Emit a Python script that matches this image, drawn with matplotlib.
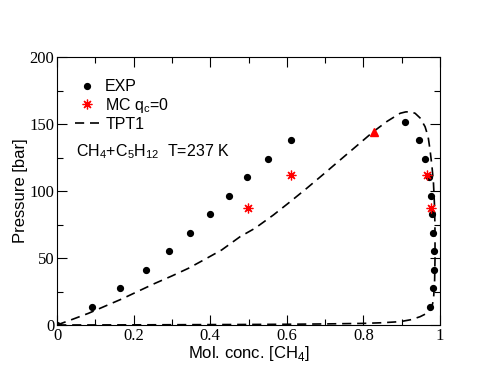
import matplotlib
matplotlib.use("Agg")
import matplotlib.pyplot as plt
from matplotlib.ticker import MultipleLocator

# Experimental data
exp_x = [0.0, 0.091, 0.165, 0.232, 0.292, 0.348, 0.400, 0.448, 0.497, 0.551, 0.612,
         0.909, 0.944, 0.962, 0.972, 0.977, 0.980, 0.983, 0.984, 0.984, 0.983, 0.975]
exp_y = [0.0, 13.7, 27.4, 41.0, 55.0, 68.7, 82.6, 96.3, 110.2, 124.1, 137.8,
         151.5, 137.8, 124.1, 110.4, 96.5, 82.8, 68.9, 55.0, 41.3, 27.4, 13.7]

# MC q_c = 0
mc_x = [0.498, 0.612, 0.966, 0.977]
mc_y = [87.6, 111.7, 111.7, 87.6]

# extra red triangle point
tri_x = [0.828]
tri_y = [143.8]

# TPT1 curve (bubble branch then dew branch back to origin)
tpt_x = [0.0, 0.041, 0.082, 0.125, 0.169, 0.212, 0.256, 0.30, 0.343, 0.386, 0.43,
         0.478, 0.517, 0.565, 0.608, 0.652, 0.696, 0.739, 0.783, 0.826, 0.862,
         0.896, 0.910, 0.922, 0.935, 0.948, 0.961, 0.969, 0.974, 0.979, 0.983,
         0.986, 0.987, 0.987, 0.986, 0.983, 0.979, 0.974, 0.962, 0.948, 0.925,
         0.896, 0.85, 0.80, 0.70, 0.60, 0.50, 0.40, 0.30, 0.20, 0.10, 0.0]
tpt_y = [0.0, 4.3, 8.7, 14.0, 19.4, 25.2, 31.1, 36.6, 42.3, 49.0, 56.0,
         65.9, 72.2, 82.1, 91.8, 102.0, 112.6, 123.1, 133.8, 144.3, 152.0,
         158.0, 159.0, 159.2, 158.0, 154.5, 148.0, 140.5, 130.6, 118.5, 105.7,
         87.0, 68.4, 50.0, 33.6, 18.7, 14.0, 11.2, 8.2, 6.2, 4.0,
         2.5, 1.7, 1.2, 0.8, 0.55, 0.4, 0.3, 0.2, 0.12, 0.05, 0.0]

plt.rcParams['font.family'] = ['Liberation Sans', 'DejaVu Sans']
plt.rcParams['mathtext.fontset'] = 'custom'
plt.rcParams['mathtext.rm'] = 'Liberation Sans'

fig = plt.figure(figsize=(4.95, 3.83), dpi=100)
ax = fig.add_axes([57/495, 58/383, 383/495, 268/383])

ax.plot(tpt_x, tpt_y, color='black', linestyle=(0, (5.5, 3.5)), linewidth=1.2,
        label='TPT1', zorder=2)
ax.plot(exp_x, exp_y, 'o', color='black', markersize=4.2, label='EXP', zorder=3)
ax.plot(mc_x, mc_y, linestyle='none', marker=(8, 2, 0), color='red', markersize=7,
        markeredgewidth=0.9, label=r'MC q$_\mathregular{c}$=0', zorder=4)
ax.plot(tri_x, tri_y, '^', color='red', markersize=5.5, zorder=4)

ax.set_xlim(0, 1)
ax.set_ylim(0, 200)
ax.xaxis.set_major_locator(MultipleLocator(0.2))
ax.xaxis.set_minor_locator(MultipleLocator(0.1))
ax.yaxis.set_major_locator(MultipleLocator(50))
ax.yaxis.set_minor_locator(MultipleLocator(25))
ax.set_xticks([0, 0.2, 0.4, 0.6, 0.8, 1.0])
ax.set_xticklabels(['0', '0.2', '0.4', '0.6', '0.8', '1'])
ax.tick_params(which='both', direction='in', top=True, right=True, labelsize=12, pad=2)
ax.tick_params(which='major', length=7, width=0.8)
ax.tick_params(which='minor', length=4, width=0.8)
for lab in ax.get_xticklabels() + ax.get_yticklabels():
    lab.set_fontfamily('Liberation Serif')
for sp in ax.spines.values():
    sp.set_linewidth(0.8)

ax.set_xlabel(r'Mol. conc. [CH$_\mathregular{4}$]', fontsize=12, labelpad=0)
ax.set_ylabel('Pressure [bar]', fontsize=12, labelpad=1)

handles, labels = ax.get_legend_handles_labels()
order = [1, 2, 0]
ax.legend([handles[i] for i in order], [labels[i] for i in order], loc='upper left',
          bbox_to_anchor=(0.03, 0.94), frameon=False, fontsize=11.5, handlelength=1.5,
          handletextpad=0.4, labelspacing=0.1, borderaxespad=0)

ax.text(0.05, 0.645, r'CH$_\mathregular{4}$+C$_\mathregular{5}$H$_\mathregular{12}$  T=237 K',
        transform=ax.transAxes, fontsize=11.5, va='center', ha='left')

fig.savefig('out.png', dpi=100)
